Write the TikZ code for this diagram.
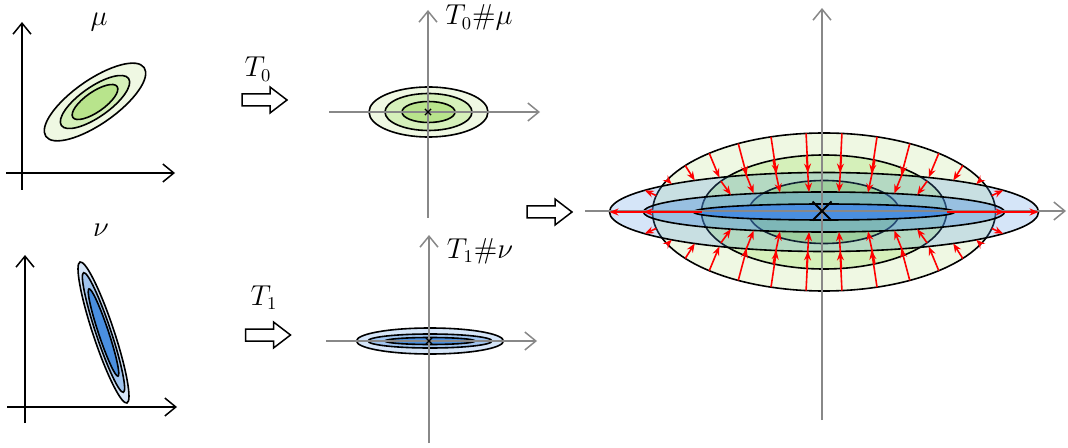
\documentclass[tikz,border=0pt]{standalone}
\usepackage{amsmath}
\usepackage{xcolor}
\usepackage{tikz}
\usetikzlibrary{arrows.meta,positioning,shapes.misc,calc}

\definecolor{gOut}{RGB}{239,248,227}
\definecolor{gMid}{RGB}{213,240,186}
\definecolor{gIn}{RGB}{184,228,140}
\definecolor{bBase}{RGB}{74,143,224}
\definecolor{axisgray}{RGB}{136,136,136}

% hollow block arrow centred on a named coordinate
\newcommand{\blockarr}[1]{%
  \draw[blockarrow] (#1) ++(-22.5,-6) -- ++(28,0) -- ++(0,-7) -- ++(17,13)
    -- ++(-17,13) -- ++(0,-7) -- ++(-28,0) -- cycle;}

\begin{document}
\begin{tikzpicture}[x=0.5pt, y=-0.5pt,
  axis/.style={line width=0.75pt, -{Straight Barb[length=5.5pt,width=9pt]}},
  grayaxis/.style={axis, draw=axisgray},
  level/.style={draw=black, line width=0.8pt},
  green1/.style={level, fill=gOut},
  green2/.style={level, fill=gMid},
  green3/.style={level, fill=gIn},
  blue1/.style={level, fill=bBase, fill opacity=0.23},
  blue2/.style={level, fill=bBase, fill opacity=0.38},
  blue3/.style={level, fill=bBase},
  blockarrow/.style={draw, line width=0.75pt, fill=white, line join=miter},
  maparrow/.style={red, line width=0.8pt, -{Stealth[length=4.5pt,width=3.5pt]}},
  mean/.style={cross out, draw, inner sep=0pt},
  lbl/.style={font=\fontsize{13.5}{16}\selectfont, inner sep=0pt, anchor=base}
]
  \useasboundingbox (0,0) rectangle (1068,448);

  % Left top: mu
  \draw[axis] (22,190) -- (22,22);
  \draw[axis] (6,173) -- (175,173);
  \begin{scope}[rotate around={35:(95,102)}]
    \draw[green1] (95,102) ellipse [x radius=60, y radius=22];
    \draw[green2] (95,102) ellipse [x radius=41, y radius=15];
    \draw[green3] (95,102) ellipse [x radius=27, y radius=10];
  \end{scope}
  \node[lbl] (mu) at (99,26) {$\mu$};

  % Left bottom: nu
  \draw[axis] (25,423) -- (25,255);
  \draw[axis] (7,407) -- (177,407);
  \begin{scope}[rotate around={108.4:(103.5,332.5)}]
    \draw[blue1] (103.5,332.5) ellipse [x radius=74.3, y radius=10.5];
    \draw[blue2] (103.5,332.5) ellipse [x radius=63, y radius=7.5];
    \draw[blue3] (103.5,332.5) ellipse [x radius=46, y radius=5];
  \end{scope}
  \node[lbl] (nu) at (101,237) {$\nu$};

  % Maps
  \coordinate (map0) at (264.5,100);
  \coordinate (map1) at (268,335);
  \coordinate (map2) at (549.5,212);
  \blockarr{map0}
  \blockarr{map1}
  \blockarr{map2}
  \node[lbl] (T0) at (258,77) {$T_0$};
  \node[lbl] (T1) at (264,305) {$T_1$};

  % Middle top: T0 # mu
  \draw[green1] (428.5,112) ellipse [x radius=59.5, y radius=25];
  \draw[green2] (428.5,112) ellipse [x radius=43.5, y radius=18.5];
  \draw[green3] (428.5,112) ellipse [x radius=26.5, y radius=10.5];
  \draw[grayaxis] (428,218) -- (428,10);
  \draw[grayaxis] (329,112) -- (540,112);
  \node[mean, minimum size=2.5pt, line width=0.6pt] (m0) at (428,112) {};
  \node[lbl] (T0mu) at (479,25) {$T_0\#\mu$};

  % Middle bottom: T1 # nu
  \draw[blue1] (430,341) ellipse [x radius=73.5, y radius=13];
  \draw[blue2] (430,341) ellipse [x radius=62, y radius=7];
  \draw[blue3] (430,341) ellipse [x radius=45, y radius=3.5];
  \draw[grayaxis] (429,443) -- (429,235);
  \draw[grayaxis] (326,341) -- (537,341);
  \node[mean, minimum size=2.5pt, line width=0.6pt] (m1) at (429,341) {};
  \node[lbl] (T1nu) at (480,258) {$T_1\#\nu$};

  % Right: both pushforwards
  \coordinate (O) at (824,212);
  \draw[green1] (O) ellipse [x radius=171.5, y radius=79];
  \draw[green2] (O) ellipse [x radius=122.5, y radius=57];
  \draw[green3] (O) ellipse [x radius=75.5, y radius=31.5];
  \draw[blue1] (O) ellipse [x radius=214.5, y radius=39.5];
  \draw[blue2] (O) ellipse [x radius=180.5, y radius=20];
  \draw[blue3] (O) ellipse [x radius=130.5, y radius=8];
  \draw[grayaxis] (822,420) -- (822,8);
  \draw[grayaxis] (585,211) -- (1066,211);

  % displacement along the normal of each green level
  \foreach \ag/\bg/\ab/\bb/\n in {1.715/0.79/2.145/0.395/30, 1.225/0.57/1.805/0.20/22} {
    \foreach \i in {1,...,\n} {
      \pgfmathsetmacro\t{360*\i/\n}
      \pgfmathsetmacro\p{\ag*cos(\t)}
      \pgfmathsetmacro\q{\bg*sin(\t)}
      \pgfmathsetmacro\nx{\p/(\ag*\ag)}
      \pgfmathsetmacro\ny{\q/(\bg*\bg)}
      \pgfmathsetmacro\nn{sqrt(\nx*\nx+\ny*\ny)}
      \pgfmathsetmacro\u{\nx/\nn}
      \pgfmathsetmacro\v{\ny/\nn}
      \pgfmathsetmacro\al{\u*\u/(\ab*\ab)+\v*\v/(\bb*\bb)}
      \pgfmathsetmacro\be{\p*\u/(\ab*\ab)+\q*\v/(\bb*\bb)}
      \pgfmathsetmacro\ce{\p*\p/(\ab*\ab)+\q*\q/(\bb*\bb)-1}
      \pgfmathsetmacro\s{(-\be+sqrt(max(\be*\be-\al*\ce,0)))/\al}
      \pgfmathtruncatemacro\ok{abs(\s)>0.06}
      \ifnum\ok=1
        \coordinate (src) at ($(O)+(100*\p,-100*\q)$);
        \coordinate (dst) at ($(src)+(100*\s*\u,-100*\s*\v)$);
        \draw[maparrow] (src) -- (dst);
      \fi
    }
  }
  \node[mean, minimum size=8.5pt, line width=1pt] (m2) at (822,211) {};
\end{tikzpicture}
\end{document}
